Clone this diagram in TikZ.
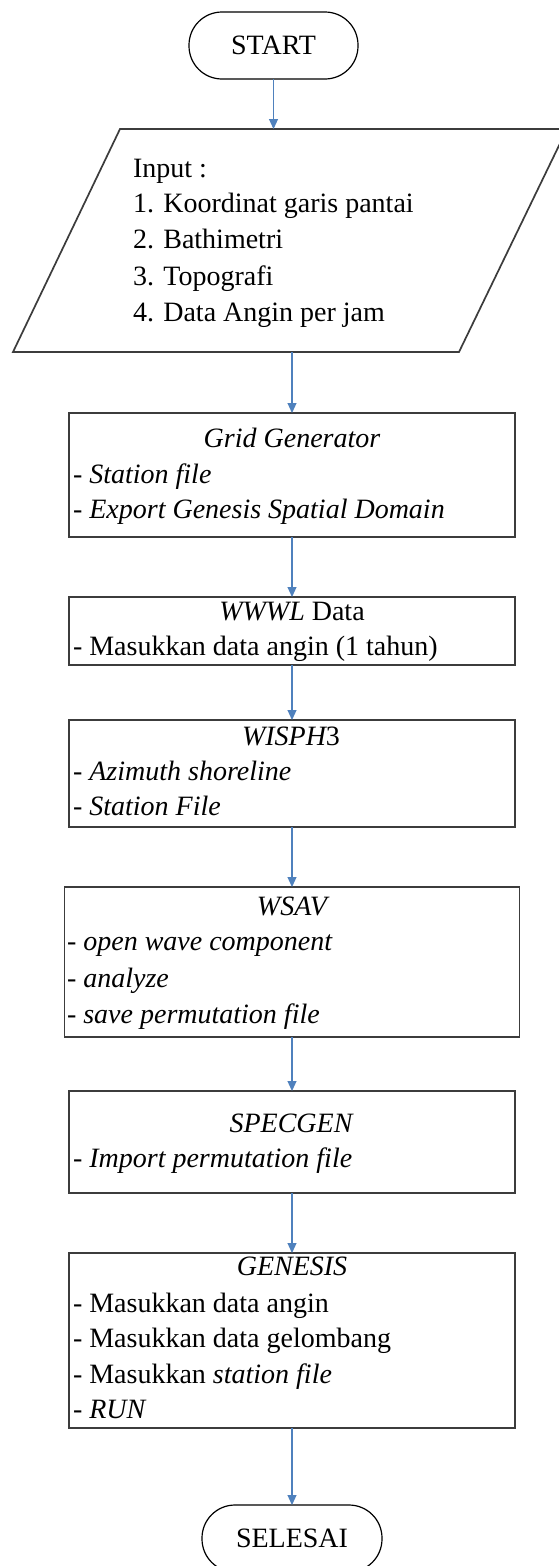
\documentclass[tikz,border=0pt]{standalone}
\usepackage{fontspec}
\setmainfont{Liberation Serif}
\usetikzlibrary{arrows.meta}
\definecolor{arrblue}{RGB}{79,129,189}
\definecolor{boxgray}{RGB}{60,60,60}
\begin{document}
\begin{tikzpicture}[x=1pt,y=-1pt,
  every node/.style={font=\fontsize{28}{34}\selectfont, inner sep=0pt, outer sep=0pt},
  term/.style={draw=black, line width=1.2pt, rounded corners=33pt, minimum height=67pt},
  procbox/.style={draw=boxgray, line width=1.7pt, minimum width=446pt},
  hidden/.style={draw=none},
  lt/.style={anchor=base west},
  ct/.style={anchor=base},
  arr/.style={draw=arrblue, line width=1.1pt, -{Triangle[length=10pt,width=9pt]}}]
\useasboundingbox (0,0) rectangle (558,1566);
\fill[white] (0,0) rectangle (558,1566);

% START
\node[term, minimum width=169pt] (start) at (273.5,45.5) {START};

% Input parallelogram
\node[hidden, minimum width=446pt, minimum height=223pt] (inp) at (290,240.5) {};
\draw[draw=boxgray, line width=1.7pt] (13,352) -- (459,352) -- (567,129) -- (120,129) -- cycle;
\node[lt] (i0) at (133,177) {Input :};
\node[lt] (i1) at (133,212) {1. Koordinat garis pantai};
\node[lt] (i2) at (133,248) {2. Bathimetri};
\node[lt] (i3) at (133,285) {3. Topografi};
\node[lt] (i4) at (133,321) {4. Data Angin per jam};

% Grid Generator
\node[procbox, minimum height=124pt] (grid) at (292,475) {};
\node[ct] (g0) at (292,447) {\itshape Grid Generator};
\node[lt] (g1) at (73,483) {- \itshape Station file};
\node[lt] (g2) at (73,518) {- \itshape Export Genesis Spatial Domain};

% WWWL
\node[procbox, minimum height=68pt] (wwwl) at (292,631) {};
\node[ct] (w0) at (292,620) {{\itshape WWWL} Data};
\node[lt] (w1) at (73,655) {- Masukkan data angin (1 tahun)};

% WISPH3
\node[procbox, minimum height=107pt] (wisph) at (292,773.5) {};
\node[ct] (p0) at (291,745) {{\itshape WISPH}3};
\node[lt] (p1) at (73,780) {- \itshape Azimuth shoreline};
\node[lt] (p2) at (73,815) {- \itshape Station File};

% WSAV
\node[procbox, minimum width=455pt, minimum height=150pt] (wsav) at (292,962) {};
\node[ct] (s0) at (292,915) {\itshape WSAV};
\node[lt] (s1) at (67,950) {- \itshape open wave component};
\node[lt] (s2) at (67,987) {- \itshape analyze};
\node[lt] (s3) at (67,1023) {- \itshape save permutation file};

% SPECGEN
\node[procbox, minimum height=102pt] (spec) at (292,1142) {};
\node[ct] (c0) at (291,1132) {\itshape SPECGEN};
\node[lt] (c1) at (73,1167) {- \itshape Import permutation file};

% GENESIS
\node[procbox, minimum height=175pt] (gen) at (292,1340.5) {};
\node[ct] (e0) at (292,1275) {\itshape GENESIS};
\node[lt] (e1) at (73,1312) {- Masukkan data angin};
\node[lt] (e2) at (73,1347) {- Masukkan data gelombang};
\node[lt] (e3) at (73,1383) {- Masukkan \itshape station file};
\node[lt] (e4) at (73,1418) {- \itshape RUN};

% SELESAI
\node[term, minimum width=180pt] (end) at (292,1538.5) {SELESAI};

% connectors
\draw[arr] (start.south) -- (start.south |- inp.north);
\draw[arr] (grid.north |- inp.south) -- (grid.north);
\draw[arr] (grid.south) -- (wwwl.north);
\draw[arr] (wwwl.south) -- (wisph.north);
\draw[arr] (wisph.south) -- (wsav.north);
\draw[arr] (wsav.south) -- (spec.north);
\draw[arr] (spec.south) -- (gen.north);
\draw[arr] (gen.south) -- (end.north);
\end{tikzpicture}
\end{document}
